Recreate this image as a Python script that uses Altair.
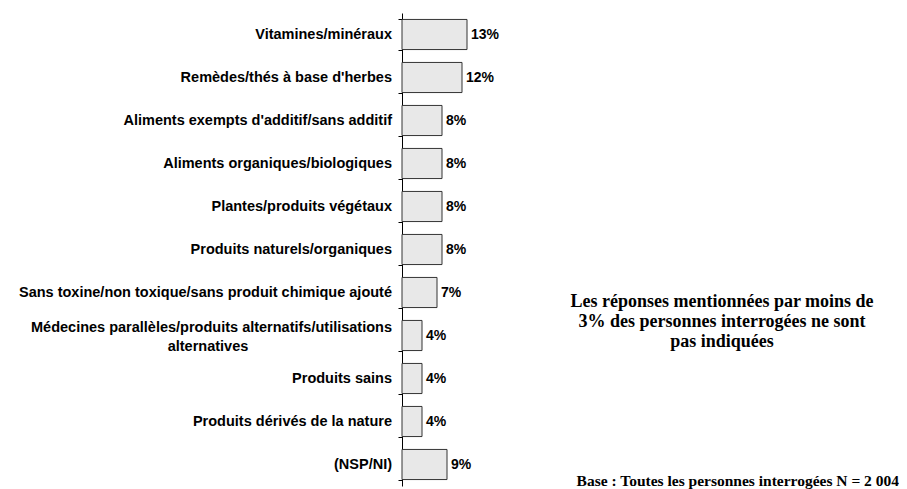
import altair as alt
import pandas as pd

categories = [
    "Vitamines/minéraux",
    "Remèdes/thés à base d'herbes",
    "Aliments exempts d'additif/sans additif",
    "Aliments organiques/biologiques",
    "Plantes/produits végétaux",
    "Produits naturels/organiques",
    "Sans toxine/non toxique/sans produit chimique ajouté",
    "Médecines parallèles/produits alternatifs/utilisations\nalternatives",
    "Produits sains",
    "Produits dérivés de la nature",
    "(NSP/NI)",
]
values = [13, 12, 8, 8, 8, 8, 7, 4, 4, 4, 9]

note_lines = [
    "Les réponses mentionnées par moins de",
    "3% des personnes interrogées ne sont",
    "pas indiquées",
]
base_text = "Base : Toutes les personnes interrogées N = 2 004"

df = pd.DataFrame({"cat": categories, "val": values})

SANS = "Liberation Sans"
SERIF = "Liberation Serif"

y_enc = alt.Y(
    "cat:N",
    sort=categories,
    scale=alt.Scale(paddingInner=0.3, paddingOuter=0.15),
    axis=alt.Axis(
        labels=False, title=None, ticks=True, tickSize=4, tickBand="extent",
        domainColor="black", tickColor="black", domainWidth=1, grid=False,
    ),
)
y_plain = alt.Y("cat:N", sort=categories)
x_enc = alt.X("val:Q", scale=alt.Scale(domain=[0, 99.4]), axis=None)

base = alt.Chart(df)

bars = base.mark_bar(fill="#e8e8e8", stroke="#333333", strokeWidth=1).encode(
    x=x_enc, y=y_enc
)

vals = base.transform_calculate(lbl="datum.val + '%'").mark_text(
    align="left", baseline="middle", dx=4, font=SANS, fontSize=14,
    fontWeight="bold", color="black"
).encode(x=x_enc, y=y_plain, text="lbl:N")

lab_common = dict(baseline="middle", font=SANS, fontSize=14.5,
                  fontWeight="bold", color="black")

lab_prep = base.transform_calculate(
    parts="split(datum.cat, '\\n')"
).transform_calculate(
    l1="datum.parts[0]", l2="length(datum.parts) > 1 ? datum.parts[1] : ''",
    multi="length(datum.parts) > 1"
)

single = lab_prep.transform_filter("!datum.multi").mark_text(
    align="right", **lab_common
).encode(x=alt.value(-10), y=y_plain, text="l1:N")

multi1 = lab_prep.transform_filter("datum.multi").mark_text(
    align="right", dy=-8, **lab_common
).encode(x=alt.value(-10), y=y_plain, text="l1:N")

multi2 = lab_prep.transform_filter("datum.multi").mark_text(
    align="center", dy=11, **lab_common
).encode(x=alt.value(-194), y=y_plain, text="l2:N")

note_df = pd.DataFrame({"t": [note_lines]})
note = alt.Chart(note_df).mark_text(
    align="center", baseline="middle", font=SERIF, fontSize=18,
    fontWeight="bold", color="black", lineHeight=20
).encode(x=alt.value(320), y=alt.value(289), text="t:N")

base_df = pd.DataFrame({"t": [base_text]})
basel = alt.Chart(base_df).mark_text(
    align="right", baseline="alphabetic", font=SERIF, fontSize=15.5,
    fontWeight="bold", color="black"
).encode(x=alt.value(497), y=alt.value(473), text="t:N")

chart = alt.layer(bars, vals, single, multi1, multi2, note, basel).properties(
    width=497, height=473,
    autosize=alt.AutoSizeParams(type="none"),
    padding={"left": 394, "top": 5, "right": 0, "bottom": 12},
).configure(background="white").configure_view(stroke=None).configure_axis(grid=False)

chart.save("out.html", embed_options={"renderer": "svg", "actions": False})
